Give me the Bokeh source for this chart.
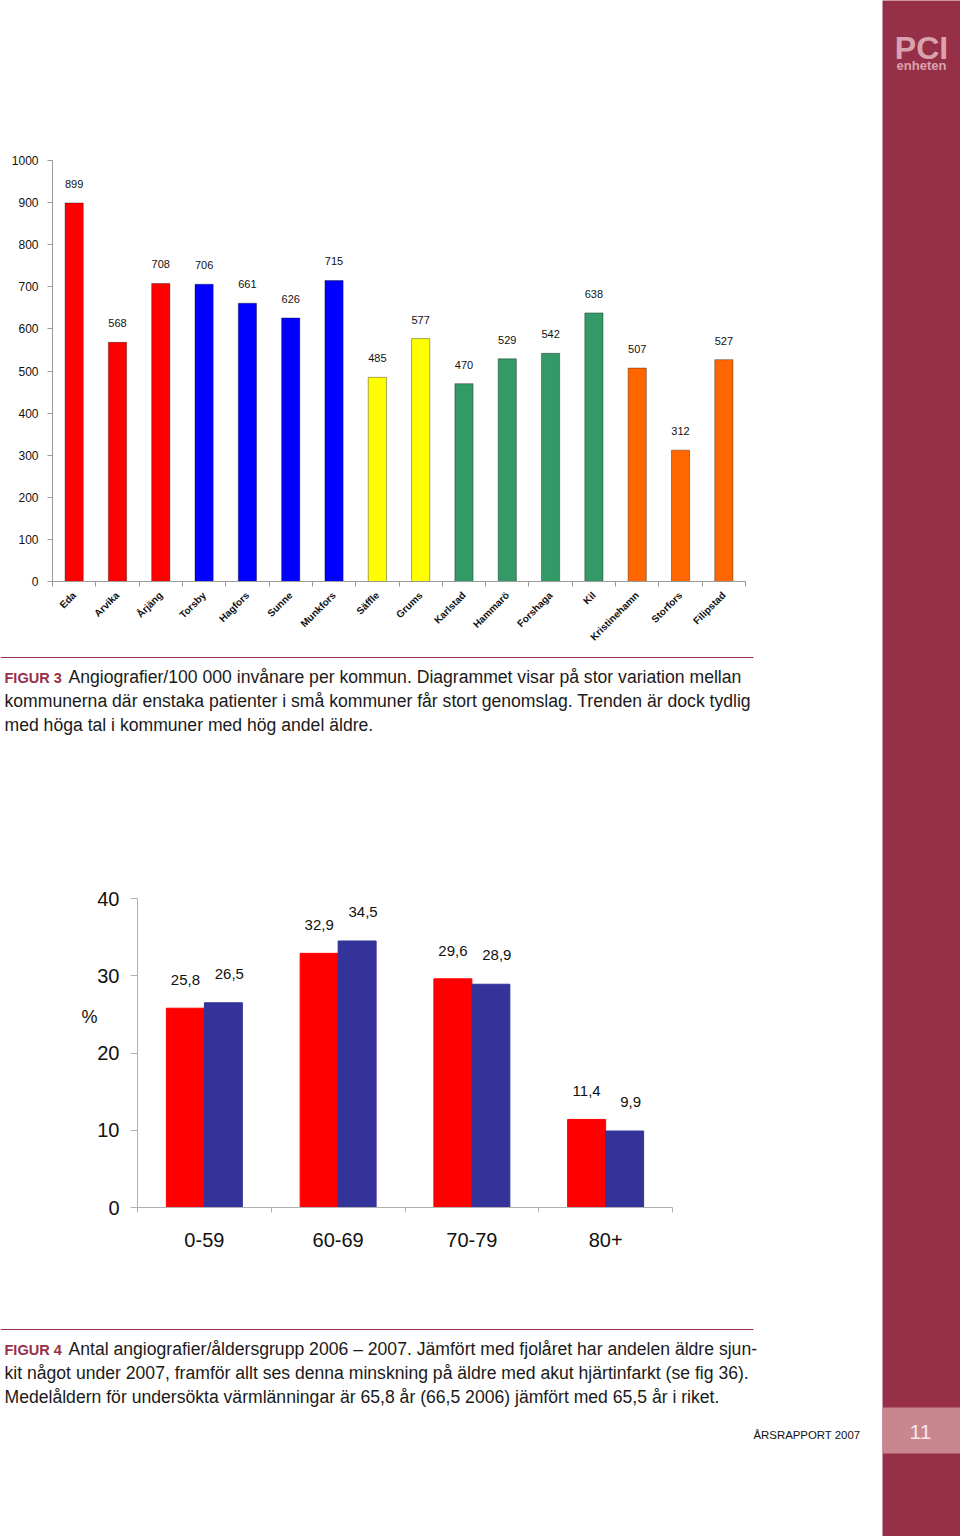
import math
from bokeh.plotting import figure
from bokeh.layouts import row, column
from bokeh.models import ColumnDataSource, Range1d, FixedTicker, LinearAxis
from bokeh.core.properties import value
from bokeh.embed import file_html
from bokeh.resources import INLINE

# ---------------- data ----------------
kommuner = ["Eda", "Arvika", "Årjäng", "Torsby", "Hagfors", "Sunne", "Munkfors", "Säffle",
            "Grums", "Karlstad", "Hammarö", "Forshaga", "Kil", "Kristinehamn", "Storfors", "Filipstad"]
angiografier = [899, 568, 708, 706, 661, 626, 715, 485, 577, 470, 529, 542, 638, 507, 312, 527]
grupp = [0, 0, 0, 1, 1, 1, 1, 2, 2, 3, 3, 3, 3, 4, 4, 4]

aldersgrupper = ["0-59", "60-69", "70-79", "80+"]
andel_2006 = [25.8, 32.9, 29.6, 11.4]
andel_2007 = [26.5, 34.5, 28.9, 9.9]

y1_ticks = [0, 100, 200, 300, 400, 500, 600, 700, 800, 900, 1000]
y2_ticks = [0, 10, 20, 30, 40]
y2_unit = "%"

caption1_head = "FIGUR 3"
caption1_lines = ["Angiografier/100 000 invånare per kommun. Diagrammet visar på stor variation mellan",
                  "kommunerna där enstaka patienter i små kommuner får stort genomslag. Trenden är dock tydlig",
                  "med höga tal i kommuner med hög andel äldre."]
caption2_head = "FIGUR 4"
caption2_lines = ["Antal angiografier/åldersgrupp 2006 – 2007. Jämfört med fjolåret har andelen äldre sjun-",
                  "kit något under 2007, framför allt ses denna minskning på äldre med akut hjärtinfarkt (se fig 36).",
                  "Medelåldern för undersökta värmlänningar är 65,8 år (66,5 2006) jämfört med 65,5 år i riket."]
footer_text = "ÅRSRAPPORT 2007"
page_number = "11"

# ---------------- styles ----------------
palette = ["#FF0000", "#0000FF", "#FFFF00", "#339966", "#FF6600"]
MAROON = "#963048"
FONT = value("Liberation Sans")
FONT_NAME = "Liberation Sans"


def style_axes(p, axis_color="#9a9a9a"):
    for ax in (p.xaxis[0], p.yaxis[0]):
        ax.axis_line_color = axis_color
        ax.major_tick_line_color = axis_color
        ax.minor_tick_line_color = axis_color
        ax.major_label_text_font = FONT_NAME
        ax.major_label_text_color = "#111111"
    p.grid.visible = False


# ---------------- top chart ----------------
n = len(kommuner)
centers = [2 * i + 1 for i in range(n)]
bounds = [2 * i for i in range(n + 1)]
src1 = ColumnDataSource(dict(
    x=centers, y=angiografier,
    color=[palette[g] for g in grupp],
    label=[str(v) for v in angiografier]))

p1 = figure(width=882, height=650, x_range=Range1d(0, 2 * n), y_range=Range1d(0, 1000),
            output_backend="svg", toolbar_location=None,
            min_border_left=52, min_border_right=137, min_border_top=160, min_border_bottom=69,
            outline_line_color=None)
p1.vbar(x="x", top="y", width=0.84, fill_color="color", line_color="#000000", line_alpha=0.35,
        line_width=1, source=src1)
p1.text(x="x", y="y", text="label", y_offset=-19, text_align="center", text_baseline="middle",
        text_font_size="11px", text_font=FONT, text_color="#111111", source=src1)
style_axes(p1)
p1.yaxis.ticker = FixedTicker(ticks=y1_ticks)
p1.yaxis.major_tick_out = 5
p1.yaxis.major_tick_in = 0
p1.yaxis.minor_tick_line_color = None
p1.yaxis.major_label_text_font_size = "12px"
p1.yaxis.major_label_standoff = 9
p1.xaxis.ticker = FixedTicker(ticks=centers, minor_ticks=bounds)
p1.xaxis.major_label_overrides = {c: k for c, k in zip(centers, kommuner)}
p1.xaxis.major_tick_line_color = None
p1.xaxis.minor_tick_out = 5
p1.xaxis.minor_tick_in = 0
p1.xaxis.major_label_orientation = math.pi / 4
p1.xaxis.major_label_text_font_size = "10px"
p1.xaxis.major_label_text_font_style = "bold"
p1.xaxis.major_label_standoff = 6

# ---------------- caption figure helper ----------------

def caption_fig(height, head, lines, top, footer=None):
    c = figure(width=882, height=height, x_range=Range1d(0, 882), y_range=Range1d(height, 0),
               output_backend="svg", toolbar_location=None, x_axis_type=None, y_axis_type=None,
               min_border=0, outline_line_color=None)
    c.grid.visible = False
    c.segment(x0=[0], x1=[753], y0=[top], y1=[top], line_color=MAROON, line_width=1.2)
    c.text(x=[4], y=[top + 20], text=[head], text_font=FONT, text_font_size="14.5px",
           text_color=MAROON, text_baseline="middle", text_font_style="bold")
    xs = [68] + [4] * (len(lines) - 1)
    ys = [top + 19 + 24 * i for i in range(len(lines))]
    c.text(x=xs, y=ys, text=lines, text_font=FONT, text_font_size="17.6px",
           text_color="#1a1a1a", text_baseline="middle")
    if footer is not None:
        c.text(x=[753], y=[114], text=[footer], text_font=FONT, text_font_size="11.4px",
               text_color="#111111", text_baseline="middle")
    return c


c1 = caption_fig(110, caption1_head, caption1_lines, 7)

# ---------------- bottom chart ----------------
m = len(aldersgrupper)
gcenters = [2 * i + 1 for i in range(m)]
gbounds = [2 * i for i in range(m + 1)]
off = 0.284
src2 = ColumnDataSource(dict(
    x06=[c - off for c in gcenters], x07=[c + off for c in gcenters],
    y06=andel_2006, y07=andel_2007,
    l06=[f"{v:.1f}".replace(".", ",") for v in andel_2006],
    l07=[f"{v:.1f}".replace(".", ",") for v in andel_2007]))

p2 = figure(width=882, height=560, x_range=Range1d(0, 2 * m), y_range=Range1d(0, 40),
            output_backend="svg", toolbar_location=None,
            min_border_left=137, min_border_right=210, min_border_top=138, min_border_bottom=113,
            outline_line_color=None)
p2.vbar(x="x06", top="y06", width=0.568, fill_color="#FF0000", line_color="#FF0000", source=src2)
p2.vbar(x="x07", top="y07", width=0.568, fill_color="#333399", line_color="#333399", source=src2)
p2.text(x="x06", y="y06", text="l06", y_offset=-28, text_align="center", text_baseline="middle",
        text_font_size="15px", text_font=FONT, text_color="#111111", source=src2)
p2.text(x="x07", y="y07", text="l07", y_offset=-29, x_offset=6, text_align="center",
        text_baseline="middle", text_font_size="15px", text_font=FONT, text_color="#111111",
        source=src2)
style_axes(p2, axis_color="#b0b0b0")
p2.yaxis.ticker = FixedTicker(ticks=y2_ticks)
p2.yaxis.major_tick_out = 7
p2.yaxis.major_tick_in = 0
p2.yaxis.minor_tick_line_color = None
p2.yaxis.major_label_text_font_size = "20px"
p2.yaxis.major_label_standoff = 11
p2.xaxis.ticker = FixedTicker(ticks=gcenters, minor_ticks=gbounds)
p2.xaxis.major_label_overrides = {c: k for c, k in zip(gcenters, aldersgrupper)}
p2.xaxis.major_tick_line_color = None
p2.xaxis.minor_tick_out = 5
p2.xaxis.minor_tick_in = 0
p2.xaxis.major_label_text_font_size = "20px"
p2.xaxis.major_label_standoff = 19

# the "%" unit sits beside the y axis, slightly above its middle
p2.extra_y_ranges = {"pct": Range1d(0, 400)}
pct_axis = LinearAxis(y_range_name="pct", ticker=FixedTicker(ticks=[247]),
                      major_label_overrides={247: y2_unit},
                      axis_line_color=None, major_tick_line_color=None, minor_tick_line_color=None,
                      major_tick_out=0, major_tick_in=0, major_label_standoff=-3,
                      major_label_text_font_size="18px", major_label_text_font=FONT_NAME,
                      major_label_text_color="#111111")
p2.add_layout(pct_axis, "left")

c2 = caption_fig(216, caption2_head, caption2_lines, 9, footer=footer_text)

# ---------------- sidebar ----------------
sb = figure(width=78, height=1536, x_range=Range1d(0, 78), y_range=Range1d(1536, 0),
            output_backend="svg", toolbar_location=None, x_axis_type=None, y_axis_type=None,
            min_border=0, outline_line_color=None,
            background_fill_color=MAROON, border_fill_color=MAROON)
sb.grid.visible = False
sb.quad(left=[0], right=[78], top=[1407], bottom=[1453], fill_color="#c8868f", line_color=None)
sb.text(x=[38], y=[1431], text=[page_number], text_font=FONT, text_font_size="21px",
        text_color="#f6e6e9", text_align="center", text_baseline="middle")
sb.text(x=[39], y=[47], text=["PCI"], text_font=FONT, text_font_size="32px", text_font_style="bold",
        text_color="#d9a3ad", text_align="center", text_baseline="middle")
sb.text(x=[39], y=[64.5], text=["enheten"], text_font=FONT, text_font_size="13px",
        text_font_style="bold", text_color="#d9a3ad", text_align="center", text_baseline="middle")

layout = row(column(row(p1), row(c1), row(p2), row(c2)), sb)
open("out.html", "w").write(file_html(layout, INLINE))
